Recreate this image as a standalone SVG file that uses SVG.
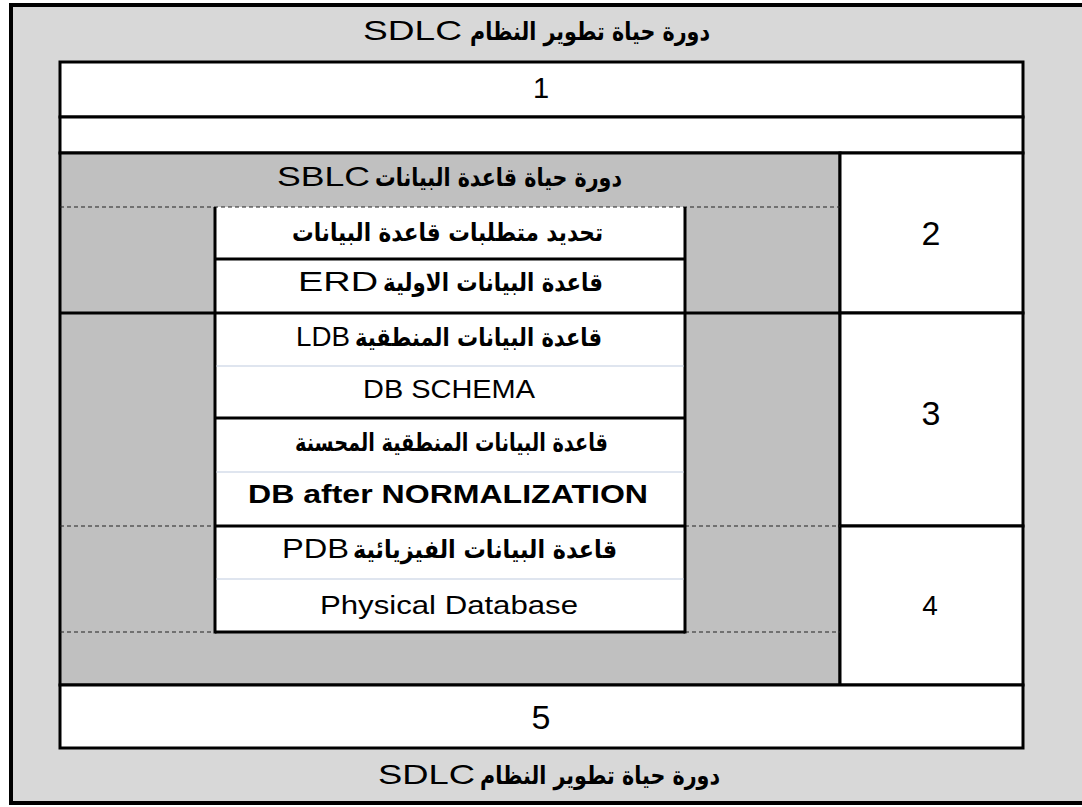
<svg xmlns="http://www.w3.org/2000/svg" width="1082" height="807" viewBox="0 0 1082 807">
  <style>
    .frame { fill: #d8d8d8; stroke: #000; stroke-width: 4; }
    .box { fill: #fff; stroke: #000; stroke-width: 3; }
    .grey { fill: #c0c0c0; stroke: #000; stroke-width: 3; }
    .cell { fill: #fff; stroke: none; }
    .solid { stroke: #000; stroke-width: 3; fill: none; }
    .dash { stroke: #222; stroke-width: 1.2; stroke-dasharray: 4 3; fill: none; }
    .thin { stroke: #d4dcea; stroke-width: 1.5; fill: none; }
    text { font-family: "Liberation Sans", Arial, sans-serif; fill: #000; text-anchor: middle; }
    .ar { font-family: "DejaVu Sans", sans-serif; font-weight: bold; font-size: 25px; direction: rtl; unicode-bidi: embed; }
    .lat { font-size: 28px; }
    .num { font-size: 34px; }
  </style>

  <!-- outer frame with system life cycle caption -->
  <g id="frame">
    <rect class="frame" x="11" y="5" width="1080" height="798"/>
    <text class="lat" x="412.5" y="40" font-size="30" textLength="99" lengthAdjust="spacingAndGlyphs">SDLC</text>
    <text class="ar" x="590" y="40" textLength="240" lengthAdjust="spacingAndGlyphs">دورة حياة تطوير النظام</text>
    <text class="lat" x="426.5" y="784" font-size="30" textLength="97" lengthAdjust="spacingAndGlyphs">SDLC</text>
    <text class="ar" x="600" y="784" textLength="240" lengthAdjust="spacingAndGlyphs">دورة حياة تطوير النظام</text>
  </g>

  <!-- stage 1 and spacer row -->
  <g id="stage1">
    <rect class="box" x="60" y="62" width="963" height="55"/>
    <text x="541" y="98" font-size="29">1</text>
  </g>
  <g id="spacer">
    <rect class="box" x="60" y="117" width="963" height="36"/>
  </g>

  <!-- database life cycle block -->
  <g id="dblc">
    <rect class="grey" x="60" y="153" width="780" height="532"/>
    <text class="lat" x="323.5" y="186" font-size="30" textLength="93" lengthAdjust="spacingAndGlyphs">SBLC</text>
    <text class="ar" x="498.5" y="186" textLength="247" lengthAdjust="spacingAndGlyphs">دورة حياة قاعدة البيانات</text>
  </g>

  <!-- right-hand stage cells -->
  <g id="stage2">
    <rect class="box" x="840" y="153" width="183" height="160"/>
    <text class="num" x="931" y="245">2</text>
  </g>
  <g id="stage3">
    <rect class="box" x="840" y="313" width="183" height="213"/>
    <text class="num" x="931" y="425">3</text>
  </g>
  <g id="stage4">
    <rect class="box" x="840" y="526" width="183" height="159"/>
    <text x="930" y="615" font-size="28">4</text>
  </g>

  <!-- stage 5 -->
  <g id="stage5">
    <rect class="box" x="60" y="685" width="963" height="63"/>
    <text class="num" x="541" y="729">5</text>
  </g>

  <!-- inner column of database stages -->
  <g id="requirements">
    <rect class="cell" x="215" y="207" width="470" height="52"/>
    <text class="ar" x="447.5" y="241" textLength="311" lengthAdjust="spacingAndGlyphs">تحديد متطلبات قاعدة البيانات</text>
  </g>
  <g id="erd">
    <rect class="cell" x="215" y="259" width="470" height="54"/>
    <text class="lat" x="338" y="291" textLength="80" lengthAdjust="spacingAndGlyphs">ERD</text>
    <text class="ar" x="493" y="291" textLength="220" lengthAdjust="spacingAndGlyphs">قاعدة البيانات الاولية</text>
  </g>
  <g id="ldb">
    <rect class="cell" x="215" y="313" width="470" height="105"/>
    <text class="lat" x="323" y="346" textLength="54" lengthAdjust="spacingAndGlyphs">LDB</text>
    <text class="ar" x="478.5" y="346" textLength="247" lengthAdjust="spacingAndGlyphs">قاعدة البيانات المنطقية</text>
    <text x="449" y="398" font-size="25" fill="#222" textLength="172" lengthAdjust="spacingAndGlyphs">DB SCHEMA</text>
  </g>
  <g id="normalized">
    <rect class="cell" x="215" y="418" width="470" height="108"/>
    <text class="ar" x="451.5" y="451" textLength="313" lengthAdjust="spacingAndGlyphs">قاعدة البيانات المنطقية المحسنة</text>
    <text x="448" y="503" font-size="25" font-weight="bold" textLength="400" lengthAdjust="spacingAndGlyphs">DB after NORMALIZATION</text>
  </g>
  <g id="pdb">
    <rect class="cell" x="215" y="526" width="470" height="106"/>
    <text class="lat" x="315.5" y="558" textLength="67" lengthAdjust="spacingAndGlyphs">PDB</text>
    <text class="ar" x="485" y="558" textLength="264" lengthAdjust="spacingAndGlyphs">قاعدة البيانات الفيزيائية</text>
    <text x="449" y="614" font-size="25" fill="#222" textLength="258" lengthAdjust="spacingAndGlyphs">Physical Database</text>
  </g>

  <!-- dividers between stages -->
  <g id="connectors">
    <line class="dash" x1="60" y1="207" x2="840" y2="207"/>
    <line class="dash" x1="60" y1="526" x2="215" y2="526"/>
    <line class="dash" x1="685" y1="526" x2="840" y2="526"/>
    <line class="dash" x1="60" y1="632" x2="215" y2="632"/>
    <line class="dash" x1="685" y1="632" x2="840" y2="632"/>
    <line class="solid" x1="60" y1="313" x2="840" y2="313"/>
    <line class="solid" x1="215" y1="259" x2="685" y2="259"/>
    <line class="solid" x1="215" y1="418" x2="685" y2="418"/>
    <line class="solid" x1="215" y1="526" x2="685" y2="526"/>
    <line class="solid" x1="215" y1="632" x2="685" y2="632"/>
    <line class="solid" x1="215" y1="207" x2="215" y2="633.5"/>
    <line class="solid" x1="685" y1="207" x2="685" y2="633.5"/>
    <line class="thin" x1="216.5" y1="366" x2="683.5" y2="366"/>
    <line class="thin" x1="216.5" y1="472" x2="683.5" y2="472"/>
    <line class="thin" x1="216.5" y1="579" x2="683.5" y2="579"/>
  </g>
</svg>
